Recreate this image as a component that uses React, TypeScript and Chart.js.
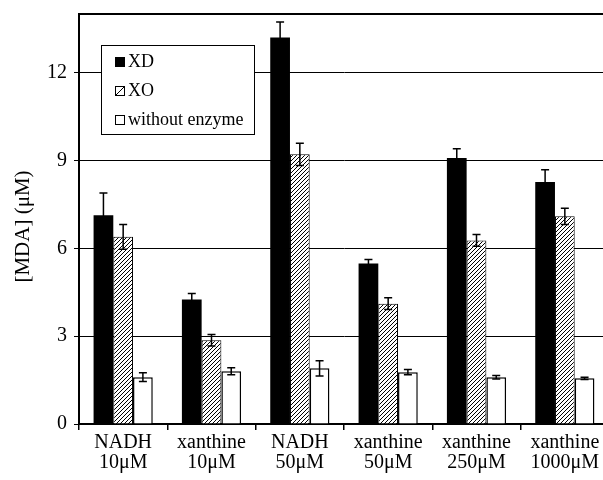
import React, { useEffect, useRef } from 'react';
import { Chart, registerables } from 'chart.js';

Chart.register(...registerables);

const categories: string[][] = [
  ['NADH', '10μM'],
  ['xanthine', '10μM'],
  ['NADH', '50μM'],
  ['xanthine', '50μM'],
  ['xanthine', '250μM'],
  ['xanthine', '1000μM'],
];
const seriesNames = ['XD', 'XO', 'without enzyme'];
const xdValues = [7.13, 4.25, 13.2, 5.48, 9.08, 8.26];
const xdErrors = [0.76, 0.21, 0.53, 0.14, 0.32, 0.42];
const xoValues = [6.39, 2.86, 9.21, 4.11, 6.27, 7.09];
const xoErrors = [0.42, 0.2, 0.38, 0.2, 0.2, 0.28];
const noEnzValues = [1.6, 1.8, 1.9, 1.77, 1.6, 1.56];
const noEnzErrors = [0.15, 0.12, 0.26, 0.09, 0.06, 0.04];
const yTicks = [0, 3, 6, 9, 12];
const yMax = 14;
const yTitle = '[MDA] (μM)';

const errorSets = [xdErrors, xoErrors, noEnzErrors];
const FONT = '"Liberation Serif", "Times New Roman", serif';

function makeHatch(): CanvasPattern | string {
  const s = 4;
  const c = document.createElement('canvas');
  c.width = s;
  c.height = s;
  const g = c.getContext('2d');
  if (!g) return '#888';
  g.fillStyle = '#fff';
  g.fillRect(0, 0, s, s);
  g.strokeStyle = '#000';
  g.lineWidth = 1;
  g.beginPath();
  g.moveTo(-1, s + 1);
  g.lineTo(s + 1, -1);
  g.moveTo(-1, 1);
  g.lineTo(1, -1);
  g.moveTo(s - 1, s + 1);
  g.lineTo(s + 1, s - 1);
  g.stroke();
  return g.createPattern(c, 'repeat') || '#888';
}

const errorBarsPlugin = {
  id: 'errorBars',
  afterDatasetsDraw(chart: any) {
    const ctx = chart.ctx;
    const ys = chart.scales.y;
    chart.data.datasets.forEach((ds: any, di: number) => {
      const meta = chart.getDatasetMeta(di);
      const errs = errorSets[di];
      meta.data.forEach((bar: any, i: number) => {
        const v = ds.data[i] as number;
        const e = errs[i];
        const x = bar.x;
        const yTop = ys.getPixelForValue(v + e);
        const yBot = ys.getPixelForValue(v - e);
        ctx.save();
        ctx.strokeStyle = '#000';
        ctx.lineWidth = 1.5;
        ctx.beginPath();
        ctx.moveTo(x, yTop);
        ctx.lineTo(x, yBot);
        ctx.moveTo(x - 4, yTop);
        ctx.lineTo(x + 4, yTop);
        ctx.moveTo(x - 4, yBot);
        ctx.lineTo(x + 4, yBot);
        ctx.stroke();
        ctx.restore();
      });
    });
  },
};

const framePlugin = {
  id: 'frameAndLegend',
  afterDraw(chart: any) {
    const ctx = chart.ctx;
    const a = chart.chartArea;
    ctx.save();
    // top border
    ctx.strokeStyle = '#000';
    ctx.lineWidth = 2;
    ctx.beginPath();
    ctx.moveTo(a.left, a.top);
    ctx.lineTo(a.right, a.top);
    ctx.stroke();

    // y title
    ctx.fillStyle = '#000';
    ctx.font = `21px ${FONT}`;
    ctx.textAlign = 'center';
    ctx.textBaseline = 'middle';
    ctx.translate(23, 226.5);
    ctx.rotate(-Math.PI / 2);
    ctx.fillText(yTitle, 0, 0);
    ctx.restore();

    // legend
    ctx.save();
    const bx = a.left + 22;
    const by = a.top + 31;
    const bw = 153;
    const bh = 89;
    ctx.fillStyle = '#fff';
    ctx.fillRect(bx, by, bw, bh);
    ctx.strokeStyle = '#000';
    ctx.lineWidth = 1;
    ctx.strokeRect(bx + 0.5, by + 0.5, bw, bh);
    ctx.font = `18px ${FONT}`;
    ctx.textAlign = 'left';
    ctx.textBaseline = 'middle';
    const ds = chart.data.datasets;
    ds.forEach((d: any, i: number) => {
      const cy = by + 16 + i * 29;
      const mx = bx + 14;
      const ms = 9;
      const my = Math.round(cy - ms / 2) + 0.5;
      if (i === 0) {
        ctx.fillStyle = '#000';
        ctx.fillRect(mx, my - 0.5, ms + 1, ms + 1);
      } else {
        ctx.fillStyle = '#fff';
        ctx.fillRect(mx, my, ms, ms);
        ctx.strokeStyle = '#000';
        ctx.lineWidth = 1;
        ctx.strokeRect(mx + 0.5, my, ms, ms);
        if (i === 1) {
          ctx.beginPath();
          ctx.moveTo(mx + 0.5, my + ms);
          ctx.lineTo(mx + ms + 0.5, my);
          ctx.stroke();
        }
      }
      ctx.fillStyle = '#000';
      ctx.fillText(d.label, bx + 27, cy + 1);
    });
    ctx.restore();
  },
};

export default function App() {
  const ref = useRef<HTMLCanvasElement | null>(null);
  useEffect(() => {
    if (!ref.current) return;
    const hatch = makeHatch();
    const chart = new Chart(ref.current, {
      type: 'bar',
      data: {
        labels: categories,
        datasets: [
          {
            label: seriesNames[0],
            data: xdValues,
            backgroundColor: '#000',
            borderColor: '#000',
            borderWidth: 0,
          },
          {
            label: seriesNames[1],
            data: xoValues,
            backgroundColor: hatch as any,
            borderColor: '#000',
            borderWidth: 1,
          },
          {
            label: seriesNames[2],
            data: noEnzValues,
            backgroundColor: '#fff',
            borderColor: '#000',
            borderWidth: 1.5,
          },
        ],
      },
      options: {
        animation: false,
        responsive: false,
        maintainAspectRatio: false,
        layout: { padding: { top: 14, right: 11, left: 0, bottom: 0 } },
        datasets: { bar: { categoryPercentage: 0.67, barPercentage: 1.0 } },
        plugins: { legend: { display: false }, tooltip: { enabled: false } },
        scales: {
          x: {
            offset: true,
            grid: {
              offset: true,
              drawOnChartArea: false,
              drawTicks: true,
              tickLength: 6,
              color: '#000',
              lineWidth: 1.5,
            },
            border: { display: true, color: '#000', width: 2 },
            ticks: {
              autoSkip: false,
              maxRotation: 0,
              minRotation: 0,
              padding: 3,
              color: '#000',
              font: { family: FONT, size: 20, lineHeight: 1.0 },
            },
            afterFit(scale: any) {
              scale.height = 56;
              scale.paddingLeft = 0;
              scale.paddingRight = 0;
            },
          },
          y: {
            min: 0,
            max: yMax,
            afterBuildTicks(scale: any) {
              scale.ticks = yTicks.map((v) => ({ value: v }));
            },
            grid: {
              color: '#000',
              lineWidth: 1,
              drawTicks: true,
              tickLength: 5,
            },
            border: { display: true, color: '#000', width: 2 },
            ticks: {
              padding: 7,
              color: '#000',
              font: { family: FONT, size: 20 },
            },
            afterFit(scale: any) {
              scale.width = 79;
              scale.paddingTop = 0;
              scale.paddingBottom = 0;
            },
          },
        },
      },
      plugins: [errorBarsPlugin, framePlugin],
    });
    return () => chart.destroy();
  }, []);
  return (
    <div
      style={{
        position: 'fixed',
        left: 0,
        top: 0,
        width: 603,
        height: 480,
        overflow: 'hidden',
        background: '#fff',
      }}
    >
      <canvas ref={ref} width={620} height={480} style={{ display: 'block' }} />
    </div>
  );
}
